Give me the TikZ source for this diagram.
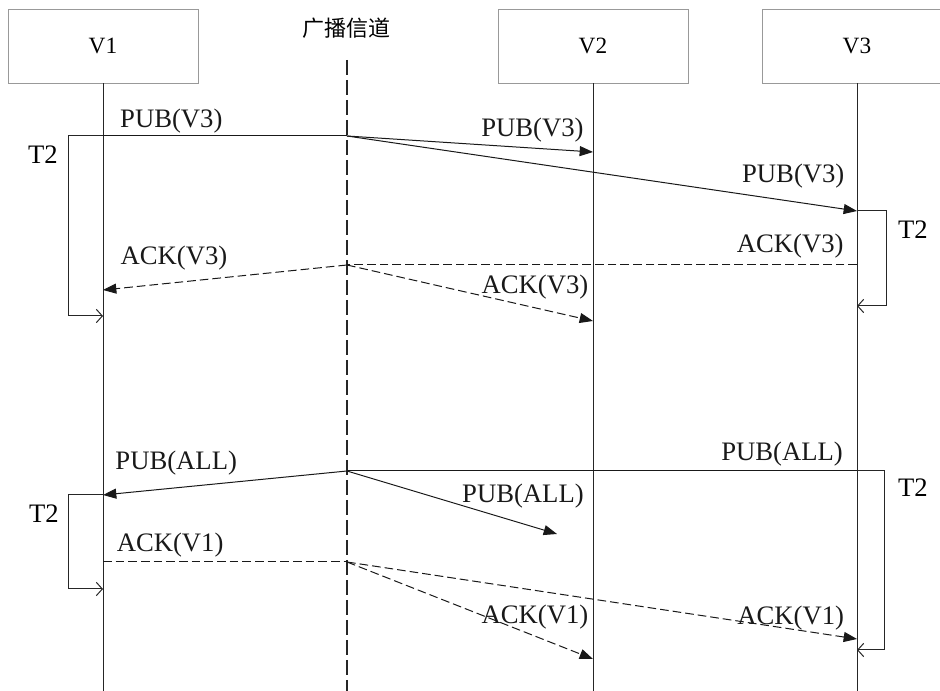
\documentclass[tikz,border=0pt]{standalone}
\usepackage{fontspec}
\setmainfont{Liberation Serif}
\newfontfamily\cjk{Noto Sans CJK SC}
\usetikzlibrary{arrows.meta,positioning}

\tikzset{
  unit/.style={draw=black!40, line width=0.6pt, minimum width=142.5pt, minimum height=55.5pt, font=\fontsize{17.5}{19}\selectfont},
  life/.style={black!85, line width=0.75pt},
  chan/.style={black!85, line width=1.1pt, dash pattern=on 11pt off 4pt},
  msg/.style={black!90, line width=0.75pt},
  ack/.style={black!90, line width=0.75pt, dash pattern=on 6.5pt off 3pt},
  tip/.style={-{Triangle[length=10pt,width=7.5pt]}},
  timer/.style={black!85, line width=0.75pt, -{Straight Barb[length=4.5pt,width=10pt]}},
  lbl/.style={font=\fontsize{20}{22}\selectfont, inner sep=1pt},
}

\begin{document}
\begin{tikzpicture}[x=0.75pt, y=-0.75pt]

\clip (0,0) rectangle (940,691);

% units and channel
\path
(103,46)  node[unit] (v1) {V1}
(593,46)  node[unit] (v2) {V2}
(857,46)  node[unit] (v3) {V3}
(346,28)  node[font=\fontsize{16.5}{18}\selectfont\cjk] (bc) {广播信道}
(103,691) coordinate (v1e)
(593,691) coordinate (v2e)
(857,691) coordinate (v3e)
(347,60)  coordinate (bct)
(347,691) coordinate (bcb)
;

\draw[life] (v1.south)--(v1e);
\draw[life] (v2.south)--(v2e);
\draw[life] (v3.south)--(v3e);
\draw[chan] (bct)--(bcb);

% Step 1: PUB(V3) and ACK(V3)
\path
(103,136) coordinate (p1)
(347,136) coordinate (q1)
(593,152) coordinate (r1)
(857,211) coordinate (s1)
(103,316) coordinate (p1t)
(857,306) coordinate (s1t)
(857,265) coordinate (s2)
(347,265) coordinate (q2)
(103,290) coordinate (p2)
(593,321) coordinate (r2)
;

\draw[msg] (p1)--(q1) node[lbl, pos=.28, above=1pt]{PUB(V3)};
\draw[timer] (p1)--++(-35,0) |- (p1t);
\draw[msg, tip] (q1)--(r1) node[lbl, pos=.754, above=3pt]{PUB(V3)};
\draw[msg, tip] (q1)--(s1) node[lbl, pos=.875, above=8.5pt]{PUB(V3)};
\draw[timer] (s1)--++(29,0) |- (s1t);

\draw[ack] (s2)--(q2) node[lbl, pos=.131, above=3.5pt]{ACK(V3)};
\draw[ack, tip] (q2)--(p2) node[lbl, pos=.709, above=7.8pt]{ACK(V3)};
\draw[ack, tip] (q2)--(r2) node[lbl, pos=.764, above=5pt]{ACK(V3)};

\path
(43,164)  node[lbl, anchor=base] (t2a) {T2}
(913,239) node[lbl, anchor=base] (t2b) {T2}
;

% Step 2: PUB(ALL) and ACK(V1)
\path
(857,471) coordinate (s3)
(347,471) coordinate (q3)
(103,495) coordinate (p3)
(557,534) coordinate (x3)
(857,650) coordinate (s3t)
(103,589) coordinate (p3t)
(103,562) coordinate (p4)
(347,562) coordinate (q4)
(857,639) coordinate (s4)
(593,659) coordinate (r4)
;

\draw[msg] (s3)--(q3) node[lbl, pos=.147, above=2pt]{PUB(ALL)};
\draw[timer] (s3)--++(27,0) |- (s3t);
\draw[msg, tip] (q3)--(p3) node[lbl, pos=.70, above=7.8pt]{PUB(ALL)};
\draw[msg, tip] (q3)--(x3) node[lbl, pos=.838, above=10pt]{PUB(ALL)};
\draw[timer] (p3)--++(-35,0) |- (p3t);

\draw[ack] (p4)--(q4) node[lbl, pos=.275, above=2pt]{ACK(V1)};
\draw[ack, tip] (q4)--(s4) node[lbl, pos=.87, above=-2.5pt]{ACK(V1)};
\draw[ack, tip] (q4)--(r4) node[lbl, pos=.764, above=4pt]{ACK(V1)};

\path
(44,523)  node[lbl, anchor=base] (t2c) {T2}
(913,497) node[lbl, anchor=base] (t2d) {T2}
;

\end{tikzpicture}
\end{document}
